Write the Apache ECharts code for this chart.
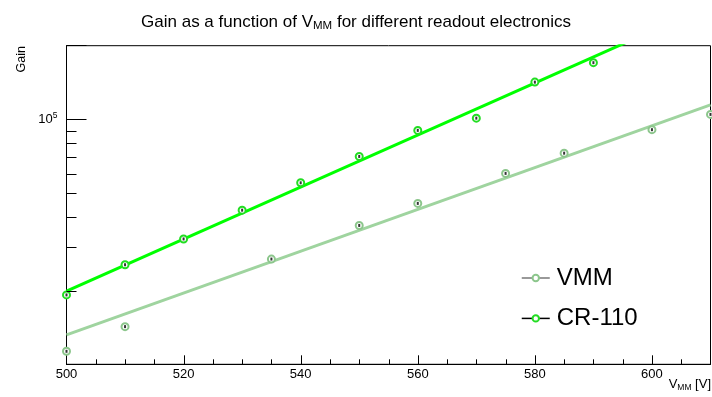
<!DOCTYPE html>
<html>
<head>
<meta charset="utf-8">
<script src="https://cdn.jsdelivr.net/npm/echarts@6/dist/echarts.min.js"></script>
<style>
  html, body { margin: 0; padding: 0; background: #fff; }
  #chart { width: 712px; height: 397px; }
</style>
</head>
<body>
<div id="chart"></div>
<script>
// Measured gain vs. mesh voltage for two readout chains
const voltCR  = [500, 510, 520, 530, 540, 550, 560, 570, 580, 590];
const gainCR  = [19200, 25500, 32500, 42600, 55100, 70600, 90200, 101200, 142000, 170500];
const voltVMM = [500, 510, 535, 550, 560, 575, 585, 600, 610];
const gainVMM = [11300, 14250, 26900, 36900, 45400, 60200, 72800, 90800, 104800];

// Exponential fits (straight lines on the log axis), given by their end points
const fitVolt = [500, 610];
const fitCR   = [19900, 293400];
const fitVMM  = [13180, 114650];

// Axis settings
const xMin = 500, xMax = 610, xMajor = 20;
const xMajorTicks = [520, 540, 560, 580, 600];
const xMinorTicks = [505, 510, 515, 525, 530, 535, 545, 550, 555, 565, 570, 575, 585, 590, 595, 605];
const yMin = 1e4, yMax = 2e5;
const yMinorTicks = [2e4, 3e4, 4e4, 5e4, 6e4, 7e4, 8e4, 9e4];

const FONT = 'Liberation Sans, Arial, Helvetica, sans-serif';
const zip = (a, b) => a.map((v, i) => [v, b[i]]);

const chart = echarts.init(document.getElementById('chart'), null, { renderer: 'canvas' });

// Tick marks: [x, y, length, side]; side 0 = left axis, 1 = bottom axis
const tickData = yMinorTicks.map(v => [xMin, v, 10, 0])
  .concat(xMinorTicks.map(v => [v, yMinorTicks[0], 5, 1]))
  .concat(xMajorTicks.map(v => [v, yMinorTicks[0], 9, 1]));

const tickSeries = {
  type: 'custom', silent: true, z: 10, clip: false,
  data: tickData,
  renderItem: (params, api) => {
    const p = api.coord([api.value(0), api.value(1)]);
    const cs = params.coordSys;
    const len = api.value(2);
    let shape;
    if (api.value(3) === 0) {
      const y = Math.round(p[1]) + 0.5;
      shape = { x1: cs.x, y1: y, x2: cs.x + len, y2: y };
    } else {
      const x = Math.round(p[0]) + 0.5;
      const yb = cs.y + cs.height;
      shape = { x1: x, y1: yb, x2: x, y2: yb - len };
    }
    return { type: 'line', shape: shape, style: { stroke: '#000', lineWidth: 1, fill: null } };
  }
};

chart.setOption({
  animation: false,
  backgroundColor: '#fff',
  title: {
    text: 'Gain as a function of V{sub|MM} for different readout electronics',
    left: 'center',
    top: 7,
    textStyle: {
      fontFamily: FONT, fontSize: 17, fontWeight: 'normal', color: '#000',
      rich: { sub: { fontFamily: FONT, fontSize: 11.5, color: '#000', padding: [8, 0, 0, 0] } }
    }
  },
  grid: {
    left: 66.5, right: 1.5, top: 45.7, bottom: 32.7,
    show: true, borderColor: '#000', borderWidth: 1, backgroundColor: 'transparent'
  },
  legend: {
    orient: 'vertical',
    left: 521, top: 264, padding: 0,
    itemWidth: 28, itemHeight: 8, itemGap: 12.4,
    textStyle: { fontFamily: FONT, fontSize: 24, color: '#000', lineHeight: 28, padding: [0, 0, 0, 2] },
    data: [
      { name: 'VMM', lineStyle: { color: '#777', width: 1.5, opacity: 1 } },
      { name: 'CR-110', lineStyle: { color: '#000', width: 1.5, opacity: 1 } }
    ]
  },
  xAxis: {
    type: 'value', min: xMin, max: xMax, interval: xMajor,
    axisLine: { show: true, onZero: false, lineStyle: { color: '#000', width: 1 } },
    axisTick: { show: false },
    minorTick: { show: false },
    splitLine: { show: false },
    axisLabel: { show: true, margin: 4, showMaxLabel: false, fontFamily: FONT, fontSize: 13, color: '#000' }
  },
  yAxis: {
    type: 'log', logBase: 10, min: yMin, max: yMax,
    axisLine: { show: true, onZero: false, lineStyle: { color: '#000', width: 1 } },
    axisTick: { show: true, inside: true, length: 20, lineStyle: { color: '#000' } },
    splitLine: { show: false },
    axisLabel: {
      margin: 9, fontFamily: FONT, fontSize: 13, color: '#000',
      formatter: v => (Math.abs(Math.log10(v) - 5) < 1e-6 ? '10{sup|5}' : ''),
      rich: { sup: { fontFamily: FONT, fontSize: 8.5, color: '#000', padding: [0, 0, 7, 0] } }
    }
  },
  graphic: [
    {
      type: 'text', left: 15, top: 46, rotation: Math.PI / 2,
      style: { text: 'Gain', font: '12.5px ' + FONT, fill: '#000' }
    },
    {
      type: 'text', right: 1, top: 378,
      style: {
        text: 'V{sub|MM} [V]', font: '13px ' + FONT, fill: '#000',
        rich: { sub: { font: '8.5px ' + FONT, fill: '#000', padding: [6, 0, 0, 0] } }
      }
    }
  ],
  series: [
    tickSeries,
    // fit lines
    {
      name: 'VMM fit', type: 'line', data: zip(fitVolt, fitVMM), clip: true,
      showSymbol: false, lineStyle: { color: '#9fd49f', width: 3 }, z: 2
    },
    {
      name: 'CR-110 fit', type: 'line', data: zip(fitVolt, fitCR), clip: true,
      showSymbol: false, lineStyle: { color: '#00ff00', width: 3 }, z: 2
    },
    // measured points
    {
      name: 'VMM', type: 'line', data: zip(voltVMM, gainVMM), clip: false,
      symbol: 'emptyCircle', symbolSize: 7, showSymbol: true,
      lineStyle: { opacity: 0, color: '#777' },
      itemStyle: { color: '#8cc68c', borderWidth: 1.2 }, z: 4
    },
    {
      name: 'CR-110', type: 'line', data: zip(voltCR, gainCR), clip: false,
      symbol: 'emptyCircle', symbolSize: 7, showSymbol: true,
      lineStyle: { opacity: 0, color: '#000' },
      itemStyle: { color: '#22dd22', borderWidth: 1.2 }, z: 4
    },
    {
      type: 'scatter', data: zip(voltVMM, gainVMM), clip: false,
      symbol: 'rect', symbolSize: [2, 3], itemStyle: { color: '#000' }, z: 6, silent: true
    },
    {
      type: 'scatter', data: zip(voltCR, gainCR), clip: false,
      symbol: 'rect', symbolSize: [2, 3], itemStyle: { color: '#000' }, z: 6, silent: true
    }
  ]
});
</script>
</body>
</html>
